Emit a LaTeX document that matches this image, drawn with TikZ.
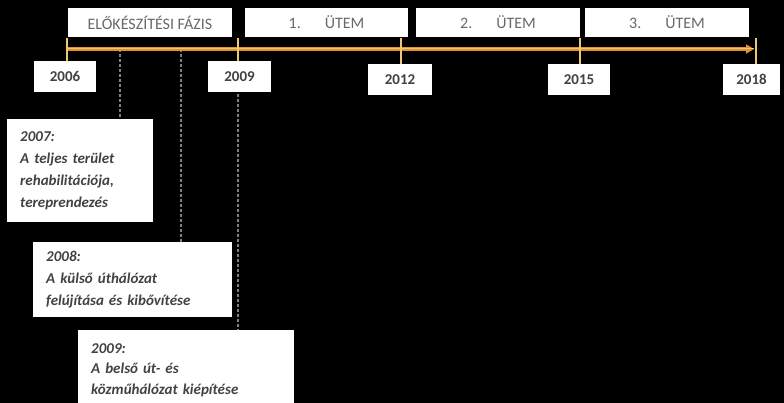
\documentclass[tikz,border=0pt]{standalone}
\usepackage{fontspec}
\setmainfont{Carlito}
\usetikzlibrary{arrows.meta}
\definecolor{tlorange}{RGB}{226,146,44}
\definecolor{tltick}{RGB}{238,200,116}
\definecolor{txtgray}{RGB}{66,66,66}
\definecolor{phgray}{RGB}{105,105,105}
\tikzset{
  yearbox/.style={fill=white, minimum height=31, inner sep=0, text=txtgray, font=\fontsize{15}{18}\selectfont\bfseries},
  phasebox/.style={fill=white, minimum width=164, minimum height=29, inner sep=0, text=phgray, font=\fontsize{16}{18}\selectfont},
  notebox/.style={fill=white, anchor=north west, align=left, inner xsep=13, inner ysep=6, text=txtgray, font=\fontsize{15}{22}\selectfont\bfseries\itshape},
  yeartick/.style={tltick, line width=2.2},
  guide/.style={gray, densely dashed, line width=1.4},
}
\begin{document}
\begin{tikzpicture}[x=1pt, y=-1pt]
\clip (0,0) rectangle (784,403);
\fill[black] (0,0) rectangle (784,403);
% points on the axis
\coordinate (t2006) at (67,49);
\coordinate (t2007) at (120,49);
\coordinate (t2008) at (181,49);
\coordinate (t2009) at (238,49);
\coordinate (tend) at (754,49);
% tick tops
\coordinate (k2006) at (67,38);
\coordinate (k2009) at (238,38);
\coordinate (k2012) at (401,38);
\coordinate (k2015) at (580,38);
\coordinate (k2018) at (756,38);
% notes
\node[notebox, text width=120, minimum height=103] (n2007) at (7,119) {2007:\\A teljes terület\\rehabilitációja,\\tereprendezés};
\node[notebox, text width=173, minimum height=75] (n2008) at (33,242) {2008:\\A külső úthálózat\\felújítása és kibővítése};
\node[notebox, text width=190, minimum height=80, inner ysep=3, font=\fontsize{15}{20.5}\selectfont\bfseries\itshape] (n2009) at (78,330) {2009:\\A belső út- és\\közműhálózat kiépítése};
\draw[guide] (t2007) -- (n2007.north -| t2007);
\draw[guide] (t2008) -- (n2008.north -| t2008);
\draw[guide] (t2009) -- (n2009.north -| t2009);
% years
\node[yearbox, minimum width=62] (y2006) at (65,76.5) {2006};
\node[yearbox, minimum width=63] (y2009) at (239.5,76.5) {2009};
\node[yearbox, minimum width=64] (y2012) at (400,79.5) {2012};
\node[yearbox, minimum width=62] (y2015) at (579,79.5) {2015};
\node[yearbox, minimum width=57] (y2018) at (751.5,79.5) {2018};
\draw[tlorange, line width=3.6, -{Triangle[length=8,width=9]}] (t2006) -- (tend);
\draw[tltick, line width=1] (t2006) -- (tend);
\draw[yeartick] (k2006) -- (y2006.north -| k2006);
\draw[yeartick] (k2009) -- (y2009.north -| k2009);
\draw[yeartick] (k2012) -- (y2012.north -| k2012);
\draw[yeartick] (k2015) -- (y2015.north -| k2015);
\draw[yeartick] (k2018) -- (y2018.north -| k2018);
% phases
\node[phasebox] (p0) at (150,22.5) {ELŐKÉSZÍTÉSI FÁZIS};
\node[phasebox, minimum width=163] (p1) at (326.5,22.5) {1.\hspace{1.5em}ÜTEM};
\node[phasebox] (p2) at (498,22.5) {2.\hspace{1.5em}ÜTEM};
\node[phasebox] (p3) at (667,22.5) {3.\hspace{1.5em}ÜTEM};
\end{tikzpicture}
\end{document}
